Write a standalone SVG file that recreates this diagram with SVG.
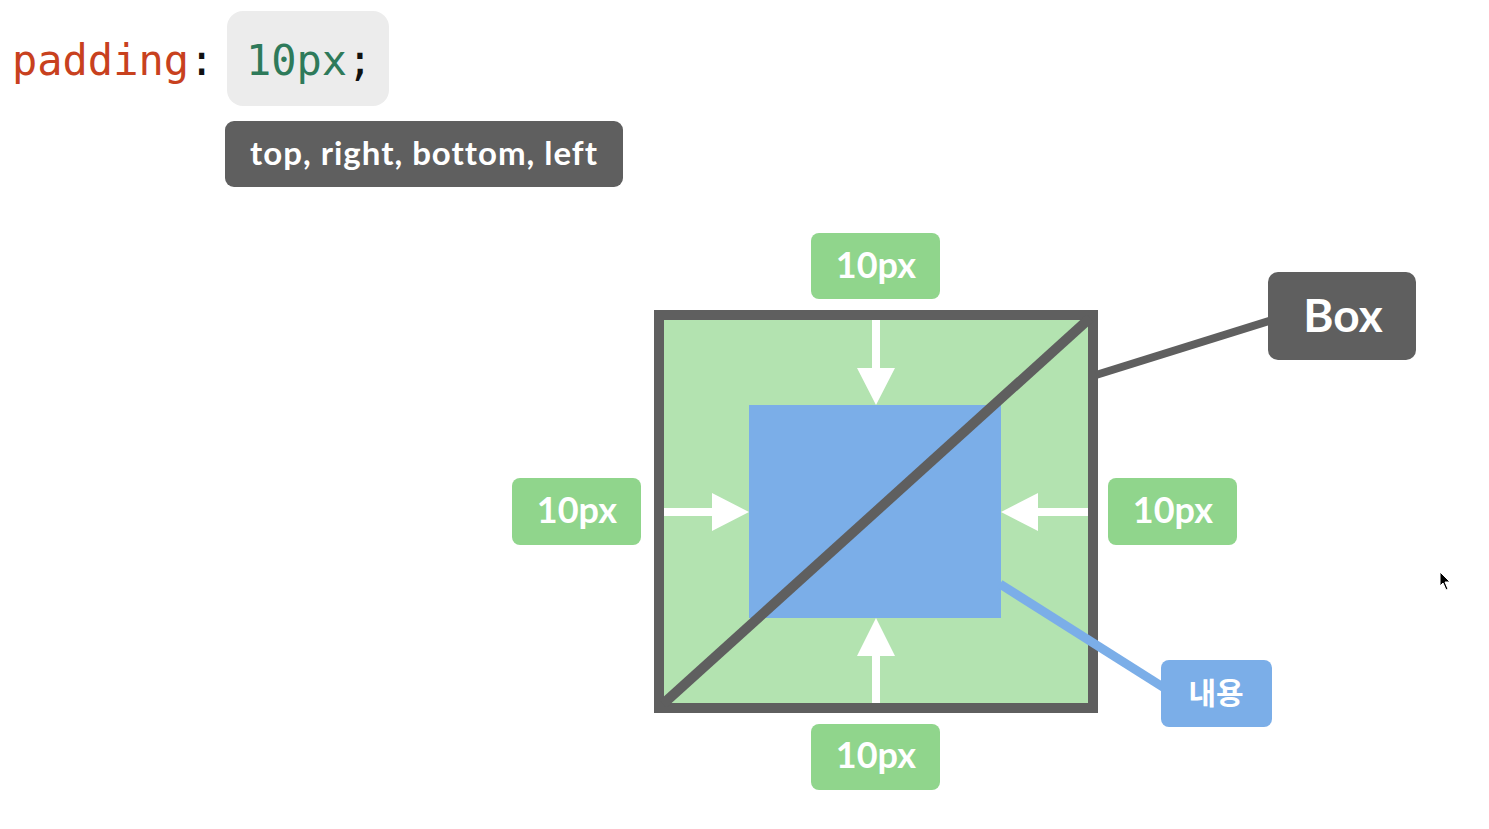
<svg xmlns="http://www.w3.org/2000/svg" width="1489" height="829" viewBox="0 0 1489 829">
<style>
.code{font-family:"DejaVu Sans Mono","Liberation Mono",monospace;font-size:42px}
.lbl{font-family:Lato,"Open Sans","Noto Sans",sans-serif;font-weight:bold;fill:#fff;text-anchor:middle}
.green{fill:#90d58c}
.dark{fill:#5f5f5f}
.arrow{fill:#fff}
</style>
<rect width="1489" height="829" fill="#fff"/>
<g id="code">
<rect x="227" y="11" width="162" height="95" rx="16" fill="#ececec"/>
<text class="code" x="12" y="75"><tspan fill="#c8411e">padding</tspan><tspan fill="#111">:</tspan></text>
<text class="code" x="246" y="75"><tspan fill="#2e7a5a">10px</tspan><tspan fill="#111">;</tspan></text>
</g>
<g id="sides-label">
<rect class="dark" x="225" y="121" width="398" height="66" rx="9"/>
<text class="lbl" x="424" y="165" font-size="33" letter-spacing="1">top, right, bottom, left</text>
</g>
<g id="box">
<rect x="659" y="315" width="434" height="393" fill="#b3e3b0" stroke="#5f5f5f" stroke-width="10"/>
<rect id="content" x="749" y="405" width="252" height="213" fill="#7baee8"/>
</g>
<g id="connectors">
<line x1="663" y1="704" x2="1090" y2="318" stroke="#5f5f5f" stroke-width="10"/>
<line x1="1096" y1="375" x2="1272" y2="320" stroke="#5f5f5f" stroke-width="8"/>
<line x1="1000" y1="584" x2="1166" y2="689" stroke="#7baee8" stroke-width="9"/>
<path class="arrow" d="M872 320 H880 V368 H895 L876 405 L857 368 H872 Z"/>
<path class="arrow" d="M872 703 H880 V656 H895 L876 618 L857 656 H872 Z"/>
<path class="arrow" d="M664 508 V516 H712 V531 L749 512 L712 493 V508 Z"/>
<path class="arrow" d="M1088 508 V516 H1038 V531 L1001 512 L1038 493 V508 Z"/>
</g>
<g id="top-10px">
<rect class="green" x="811" y="233" width="129" height="66" rx="8"/>
<text class="lbl" x="876" y="278" font-size="36">10px</text>
</g>
<g id="left-10px">
<rect class="green" x="512" y="478" width="129" height="67" rx="8"/>
<text class="lbl" x="577" y="523" font-size="36">10px</text>
</g>
<g id="right-10px">
<rect class="green" x="1108" y="478" width="129" height="67" rx="8"/>
<text class="lbl" x="1173" y="523" font-size="36">10px</text>
</g>
<g id="bottom-10px">
<rect class="green" x="811" y="724" width="129" height="66" rx="8"/>
<text class="lbl" x="876" y="768" font-size="36">10px</text>
</g>
<g id="box-label">
<rect class="dark" x="1268" y="272" width="148" height="88" rx="10"/>
<text class="lbl" x="1343" y="332" font-size="46">Box</text>
</g>
<g id="content-label">
<rect x="1161" y="660" width="111" height="67" rx="8" fill="#7baee8"/>
<text class="lbl" x="1216" y="704" font-size="30" style="font-family:'Noto Sans CJK KR',sans-serif">내용</text>
</g>
<path d="M1440 572 L1440 586 L1443 583 L1446 590 L1448 589 L1445 582 L1450 582 Z" fill="#000" stroke="#fff" stroke-width="1"/>
</svg>
